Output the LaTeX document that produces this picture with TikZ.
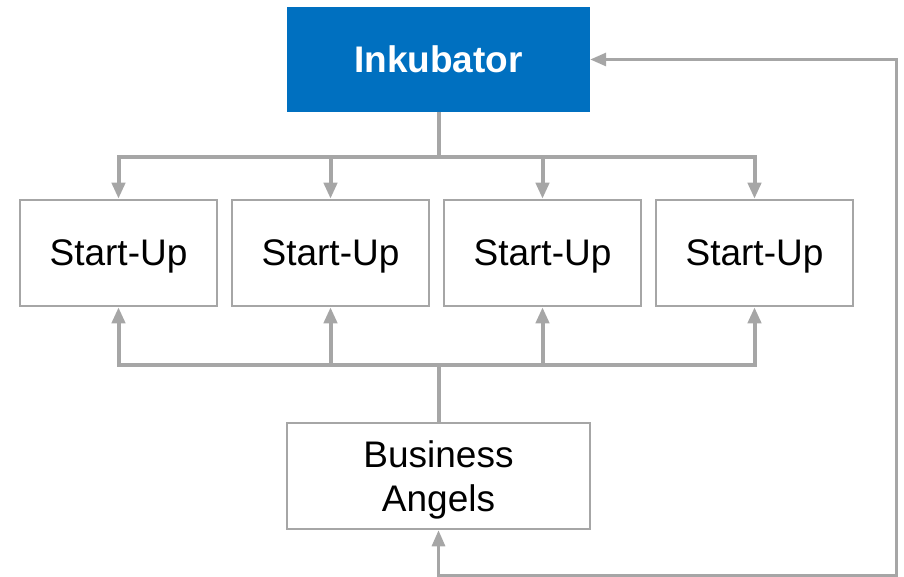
\documentclass[tikz,border=0pt]{standalone}
\usepackage{fontspec}
\setmainfont{Liberation Sans}
\usetikzlibrary{arrows.meta}
\definecolor{boxblue}{HTML}{0070C0}
\definecolor{linegray}{HTML}{A6A6A6}
\begin{document}
\begin{tikzpicture}[x=1pt,y=-1pt,
  conn/.style={draw=linegray, line width=4pt},
  thinconn/.style={draw=linegray, line width=3pt},
  headtip/.style={-{Triangle[length=16pt,width=13pt]}},
  bothtips/.style={{Triangle[length=16pt,width=13pt]}-{Triangle[length=16pt,width=13pt]}},
  labelfont/.style={font=\fontsize{37}{44}\selectfont},
  startbox/.style={draw=linegray, line width=2.5pt, fill=white, minimum width=197pt,
    minimum height=106pt, inner sep=0pt, text depth=0pt, labelfont},
  bluebox/.style={fill=boxblue, text=white, minimum width=303pt, minimum height=105pt,
    inner sep=0pt, text depth=0pt, font=\fontsize{37}{44}\selectfont\bfseries},
  angelbox/.style={draw=linegray, line width=2.5pt, fill=white, minimum width=303pt,
    minimum height=106pt, inner sep=0pt, align=center, text depth=0pt, labelfont}]
\useasboundingbox (0,0) rectangle (904,577);

\node[bluebox] (ink) at (438.5,59.5) {Inkubator};
\node[startbox] (s1) at (118.5,253) {Start-Up};
\node[startbox] (s2) at (330.5,253) {Start-Up};
\node[startbox] (s3) at (542.5,253) {Start-Up};
\node[startbox] (s4) at (754.5,253) {Start-Up};
\node[angelbox] (ba) at (438.5,476) {Business\\Angels};

\coordinate (topbus) at (438.5,157);
\coordinate (lowbus) at (438.5,365);
\coordinate (loop) at (896,575);

% distribution from the incubator
\draw[conn] (ink.south) -- (topbus);
\draw[conn, bothtips] (s1.north) -- (s1.north |- topbus) -- (s4.north |- topbus) -- (s4.north);
\draw[conn, headtip] (s2.north |- topbus) -- (s2.north);
\draw[conn, headtip] (s3.north |- topbus) -- (s3.north);

% support from the business angels
\draw[conn] (ba.north) -- (lowbus);
\draw[conn, bothtips] (s1.south) -- (s1.south |- lowbus) -- (s4.south |- lowbus) -- (s4.south);
\draw[conn, headtip] (s2.south |- lowbus) -- (s2.south);
\draw[conn, headtip] (s3.south |- lowbus) -- (s3.south);

% feedback loop
\draw[thinconn, bothtips] (ba.south) -- (ba.south |- loop) -- (loop) -- (loop |- ink.east) -- (ink.east);
\end{tikzpicture}
\end{document}
